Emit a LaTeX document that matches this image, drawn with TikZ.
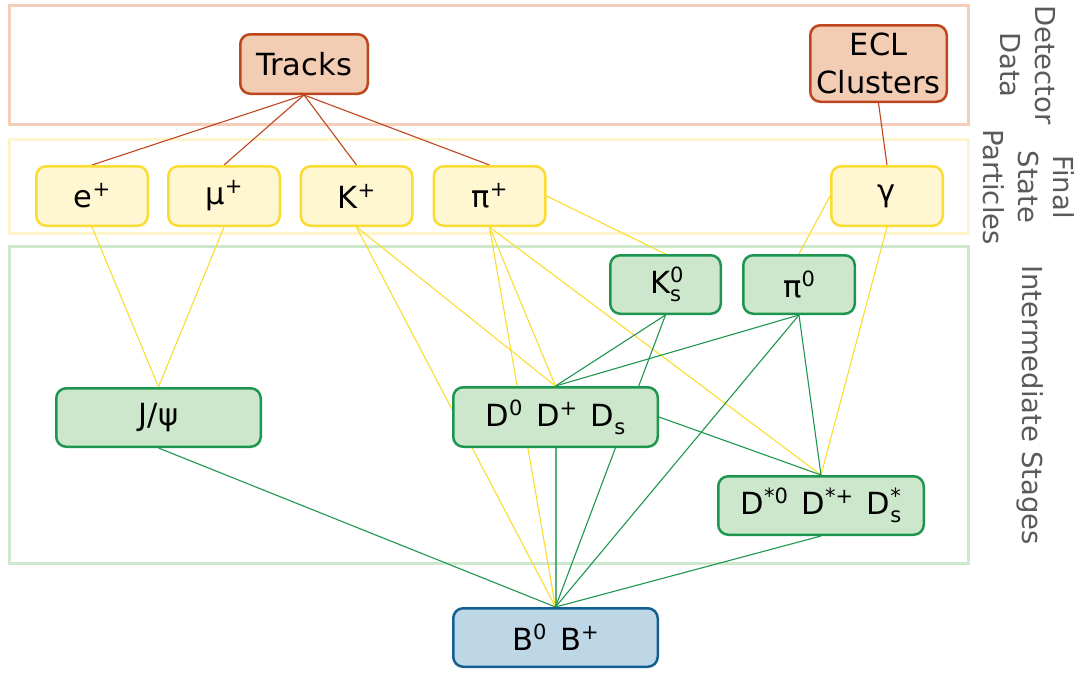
\documentclass[tikz,border=0pt]{standalone}
\usepackage{fontspec}
\setmainfont{DejaVu Sans}
\usetikzlibrary{backgrounds}
\definecolor{detgrp}{RGB}{245,205,185}
\definecolor{fsgrp}{RGB}{255,245,205}
\definecolor{imgrp}{RGB}{205,232,205}
\definecolor{detfill}{RGB}{242,205,180}
\definecolor{detline}{RGB}{190,70,30}
\definecolor{fsfill}{RGB}{255,247,210}
\definecolor{fsline}{RGB}{250,220,50}
\definecolor{imfill}{RGB}{204,231,204}
\definecolor{imline}{RGB}{30,150,80}
\definecolor{bfill}{RGB}{190,215,230}
\definecolor{bline}{RGB}{20,95,145}
\definecolor{lblgray}{RGB}{90,90,90}
\newcommand{\gap}{\hspace{0.45em}}
\newcommand{\su}[1]{\raisebox{0.36em}{\fontsize{21}{21}\selectfont #1}}
\newcommand{\sbs}[1]{\raisebox{-0.27em}{\fontsize{21}{21}\selectfont #1}}
\tikzset{
  box/.style={rounded corners=10pt, line width=2.5pt, inner sep=0pt,
    font=\fontsize{30.5}{38}\selectfont, align=center},
  detbox/.style={box, draw=detline, fill=detfill},
  fsbox/.style={box, draw=fsline, fill=fsfill, minimum width=111.5pt, minimum height=59.5pt},
  imbox/.style={box, draw=imline, fill=imfill},
  bbox/.style={box, draw=bline, fill=bfill},
  grp/.style={line width=3pt},
  detcon/.style={draw=detline, line width=1.1pt},
  fscon/.style={draw=fsline, line width=1.1pt},
  imcon/.style={draw=imline, line width=1.1pt},
  sidelbl/.style={text=lblgray, rotate=-90, align=center, font=\fontsize{27.5}{35}\selectfont, inner sep=0pt}
}
\begin{document}
\begin{tikzpicture}[x=1pt,y=-1pt]
\useasboundingbox (0,0) rectangle (1081,673);
% nodes
\node[detbox, minimum width=127.5pt, minimum height=59.5pt] (tracks) at (304,64) {Tracks};
\node[detbox, minimum width=136.5pt, minimum height=76.5pt] (ecl) at (878.5,63.5) {ECL\\Clusters};
\node[fsbox] (e) at (92,196) {e\su{+}};
\node[fsbox] (mu) at (224,196) {μ\su{+}};
\node[fsbox] (k) at (356.5,196) {K\su{+}};
\node[fsbox] (pi) at (489.5,196) {π\su{+}};
\node[fsbox] (gam) at (887,196) {γ};
\node[imbox, minimum width=110.5pt, minimum height=58.5pt] (ks) at (665.5,284.5) {K\rlap{\su{0}}\sbs{s}};
\node[imbox, minimum width=111.5pt, minimum height=58.5pt] (pi0) at (799,284.5) {π\su{0}};
\node[imbox, minimum width=204.5pt, minimum height=58.5pt] (jpsi) at (158.5,417.5) {J/ψ};
\node[imbox, minimum width=204.5pt, minimum height=59.5pt] (d) at (555.5,417) {D\su{0}\gap D\su{+}\gap D\sbs{s}};
\node[imbox, minimum width=205.5pt, minimum height=58.5pt] (dst) at (821,505.5) {D\su{*0}\gap D\su{*+}\gap D\rlap{\su{*}}\sbs{s}};
\node[bbox, minimum width=204.5pt, minimum height=58.5pt] (b) at (555.5,637.5) {B\su{0}\gap B\su{+}};
% side labels
\node[sidelbl] (lbldet) at (1028,65) {Detector\\Data};
\node[sidelbl] (lblfs) at (1029,187) {Final\\State\\Particles};
\node[sidelbl] (lblim) at (1030,405) {Intermediate Stages};
% connectors and frames behind nodes
\begin{scope}[on background layer]
\draw[grp, draw=detgrp] (9.5,5.5) rectangle (968.5,124.5);
\draw[grp, draw=fsgrp] (9.5,139) rectangle (968.5,233);
\draw[grp, draw=imgrp] (9.5,246) rectangle (968.5,563.5);
\draw[detcon] (tracks.south) -- (e.north);
\draw[detcon] (tracks.south) -- (mu.north);
\draw[detcon] (tracks.south) -- (k.north);
\draw[detcon] (tracks.south) -- (pi.north);
\draw[detcon] (ecl.south) -- (gam.north);
\draw[fscon] (e.south) -- (jpsi.north);
\draw[fscon] (mu.south) -- (jpsi.north);
\draw[fscon] (k.south) -- (d.north);
\draw[fscon] (k.south) -- (b.north);
\draw[fscon] (pi.south) -- (d.north);
\draw[fscon] (pi.south) -- (b.north);
\draw[fscon] (pi.south) -- (dst.north);
\draw[fscon] (pi.east) -- (ks.north);
\draw[fscon] (gam.west) -- (pi0.north);
\draw[fscon] (gam.south) -- (dst.north);
\draw[imcon] (ks.south) -- (d.north);
\draw[imcon] (ks.south) -- (b.north);
\draw[imcon] (pi0.south) -- (d.north);
\draw[imcon] (pi0.south) -- (dst.north);
\draw[imcon] (pi0.south) -- (b.north);
\draw[imcon] (jpsi.south) -- (b.north);
\draw[imcon, line width=2pt, draw opacity=0.75] (d.south) -- (b.north);
\draw[imcon] (d.east) -- (dst.north);
\draw[imcon] (dst.south) -- (b.north);
\end{scope}
\end{tikzpicture}
\end{document}
